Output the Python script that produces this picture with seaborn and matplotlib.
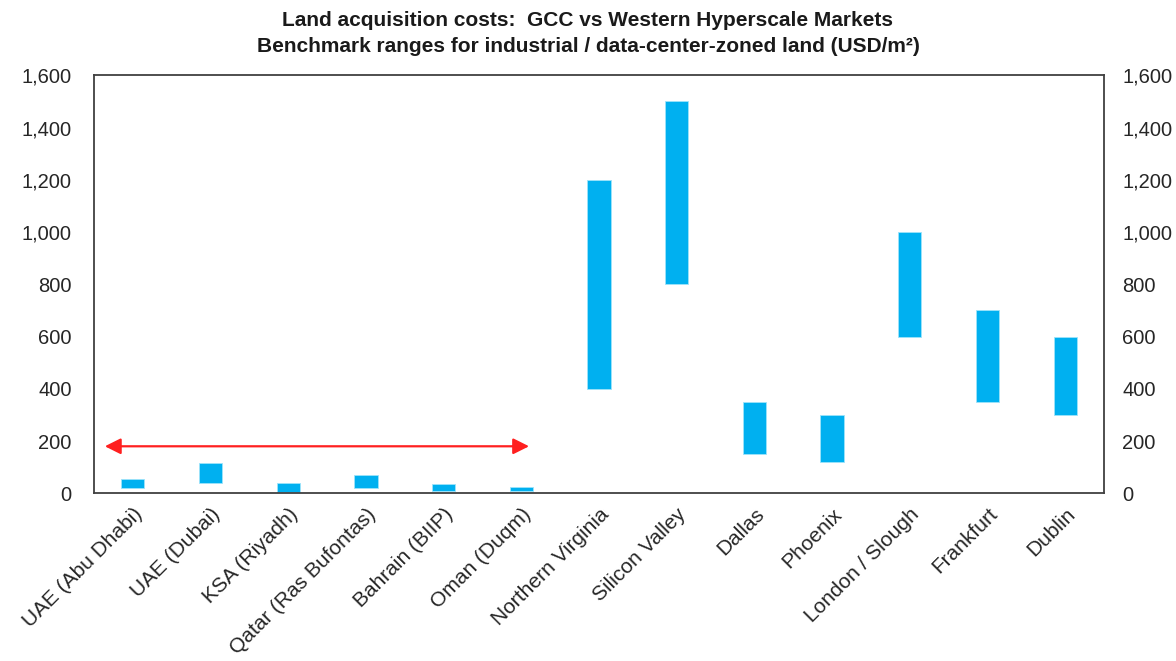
"""Land acquisition cost ranges: GCC vs Western hyperscale markets."""

import matplotlib
matplotlib.use("Agg")
import matplotlib.pyplot as plt
import matplotlib.ticker as mticker
import pandas as pd
import seaborn as sns

MARKETS = [
    "UAE (Abu Dhabi)",
    "UAE (Dubai)",
    "KSA (Riyadh)",
    "Qatar (Ras Bufontas)",
    "Bahrain (BIIP)",
    "Oman (Duqm)",
    "Northern Virginia",
    "Silicon Valley",
    "Dallas",
    "Phoenix",
    "London / Slough",
    "Frankfurt",
    "Dublin",
]
LOW_USD_M2 = [20, 40, 5, 20, 10, 8, 400, 800, 150, 120, 600, 350, 300]
HIGH_USD_M2 = [55, 115, 40, 70, 35, 25, 1200, 1500, 350, 300, 1000, 700, 600]
Y_TICKS = [0, 200, 400, 600, 800, 1000, 1200, 1400, 1600]
GCC_ARROW_Y = 180

BAR_COLOR = "#00B0F0"
TEXT_COLOR = "#262626"

df = pd.DataFrame({"market": MARKETS, "low": LOW_USD_M2, "high": HIGH_USD_M2})
df["span"] = df["high"] - df["low"]

sns.set_style("white")
plt.rcParams["font.family"] = ["Liberation Sans", "DejaVu Sans"]

fig = plt.figure(figsize=(11.76, 6.61), dpi=100)
ax = fig.add_axes([0.0799, 0.2537, 0.8589, 0.6323])

sns.barplot(
    data=df,
    x="market",
    y="span",
    bottom=df["low"].to_numpy(),
    color=BAR_COLOR,
    saturation=1,
    width=0.30,
    edgecolor="#9EE3FA",
    linewidth=0.6,
    ax=ax,
)

ax.set_xlim(-0.5, len(MARKETS) - 0.5)
ax.set_ylim(0, 1600)
ax.set_yticks(Y_TICKS)
ax.yaxis.set_major_formatter(mticker.StrMethodFormatter("{x:,.0f}"))
ax.set_xlabel("")
ax.set_ylabel("")
ax.tick_params(axis="y", length=0, pad=16, labelsize=14.5, labelcolor=TEXT_COLOR)
ax.tick_params(axis="x", length=0, pad=8, labelsize=15, labelcolor=TEXT_COLOR)
ax.set_xticks(range(len(MARKETS)))
ax.set_xticklabels(MARKETS, rotation=45, ha="right", rotation_mode="anchor")

for spine in ax.spines.values():
    spine.set_visible(True)
    spine.set_color("#404040")
    spine.set_linewidth(1.3)

ax2 = ax.twinx()
ax2.set_ylim(ax.get_ylim())
ax2.set_yticks(Y_TICKS)
ax2.yaxis.set_major_formatter(mticker.StrMethodFormatter("{x:,.0f}"))
ax2.tick_params(axis="y", length=0, pad=13, labelsize=14.5, labelcolor=TEXT_COLOR)
for spine in ax2.spines.values():
    spine.set_visible(False)

ax.annotate(
    "",
    xy=(-0.36, GCC_ARROW_Y),
    xytext=(5.1, GCC_ARROW_Y),
    arrowprops=dict(arrowstyle="<|-|>", color="#FF2020", lw=1.6, mutation_scale=24,
                    shrinkA=0, shrinkB=0),
)

fig.text(0.5, 0.969, "Land acquisition costs:  GCC vs Western Hyperscale Markets",
         ha="center", va="center", fontsize=15, fontweight="bold", color="#1a1a1a")
fig.text(0.5, 0.930, "Benchmark ranges for industrial / data-center-zoned land (USD/m²)",
         ha="center", va="center", fontsize=15, fontweight="bold", color="#1a1a1a")

fig.savefig("out.png", dpi=100)
